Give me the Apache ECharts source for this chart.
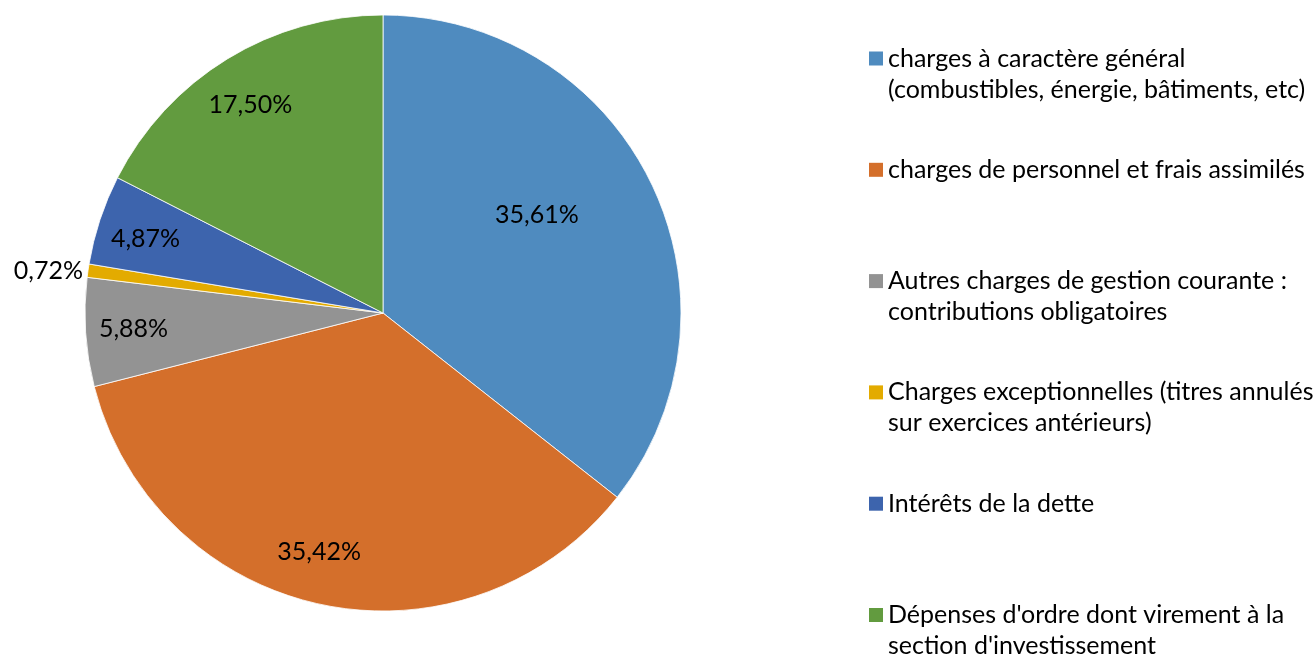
<!DOCTYPE html>
<html>
<head>
<meta charset="utf-8">
<script src="https://cdn.jsdelivr.net/npm/echarts@6/dist/echarts.min.js"></script>
<style>
  html, body { margin: 0; padding: 0; background: #fff; }
  #main { width: 1314px; height: 657px; }
</style>
</head>
<body>
<div id="main"></div>
<script>
// catégories du graphique (retour à la ligne comme dans la légende d'origine)
var categories = [
    'charges à caractère général\n(combustibles, énergie, bâtiments, etc)',
    'charges de personnel et frais assimilés',
    'Autres charges de gestion courante :\ncontributions obligatoires',
    'Charges exceptionnelles (titres annulés\nsur exercices antérieurs)',
    'Intérêts de la dette',
    "Dépenses d'ordre dont virement à la\nsection d'investissement"
];
// parts en %
var shares = [35.61, 35.42, 5.88, 0.72, 4.87, 17.50];
var colors = ['#4f8bbf', '#d46f2b', '#939393', '#e3ab00', '#3d64ad', '#629b3f'];

var FONT = 'Lato, "Open Sans", sans-serif';

function fmtPct(v) {
    return v.toFixed(2).replace('.', ',') + '%';
}

var myChart = echarts.init(document.getElementById('main'));

var option = {
    animation: false,
    color: colors,
    legend: {
        orient: 'vertical',
        left: 869,
        top: 12,
        height: 700,
        padding: 0,
        itemGap: 18.3,
        itemWidth: 14,
        itemHeight: 14,
        icon: 'rect',
        selectedMode: false,
        itemStyle: {borderWidth: 0},
        textStyle: {
            fontFamily: FONT,
            fontSize: 25,
            lineHeight: 31,
            color: '#000'
        },
        // 3 lignes par entrée : le carré reste en face de la première ligne
        formatter: function (name) {
            return name.indexOf('\n') >= 0 ? '\n' + name : '\n' + name + '\n';
        },
        data: categories
    },
    series: [
        {
            name: 'parts',
            type: 'pie',
            center: [383, 313],
            radius: [0, 298],
            startAngle: 90,
            clockwise: true,
            label: {show: false},
            labelLine: {show: false},
            emphasis: {disabled: true},
            itemStyle: {borderColor: '#fff', borderWidth: 0.8},
            data: categories.map(function (name, i) {
                return {name: name, value: shares[i]};
            })
        },
        // série transparente qui porte seulement les étiquettes
        {
            name: 'etiquettes',
            type: 'pie',
            center: [383, 313],
            radius: [196, 298],
            startAngle: 90,
            clockwise: true,
            silent: true,
            avoidLabelOverlap: false,
            emphasis: {disabled: true},
            itemStyle: {color: 'rgba(0,0,0,0)', borderWidth: 0},
            label: {
                show: true,
                position: 'inside',
                fontFamily: FONT,
                fontSize: 25,
                color: '#000',
                formatter: function (p) { return fmtPct(p.value); }
            },
            labelLine: {show: false},
            data: categories.map(function (name, i) {
                var item = {name: name, value: shares[i]};
                if (i === 0) {
                    item.label = {offset: [-71, 11]};
                } else if (i === 1) {
                    item.label = {offset: [-12, -6]};
                } else if (i === 3) {
                    item.label = {position: 'outside', distanceToLabelLine: 5};
                    item.labelLine = {show: false, length: 0, length2: 0};
                } else if (i === 4) {
                    item.label = {offset: [0, 4]};
                } else if (i === 5) {
                    item.label = {offset: [-2, 5]};
                }
                return item;
            })
        }
    ]
};

option && myChart.setOption(option);
</script>
</body>
</html>
